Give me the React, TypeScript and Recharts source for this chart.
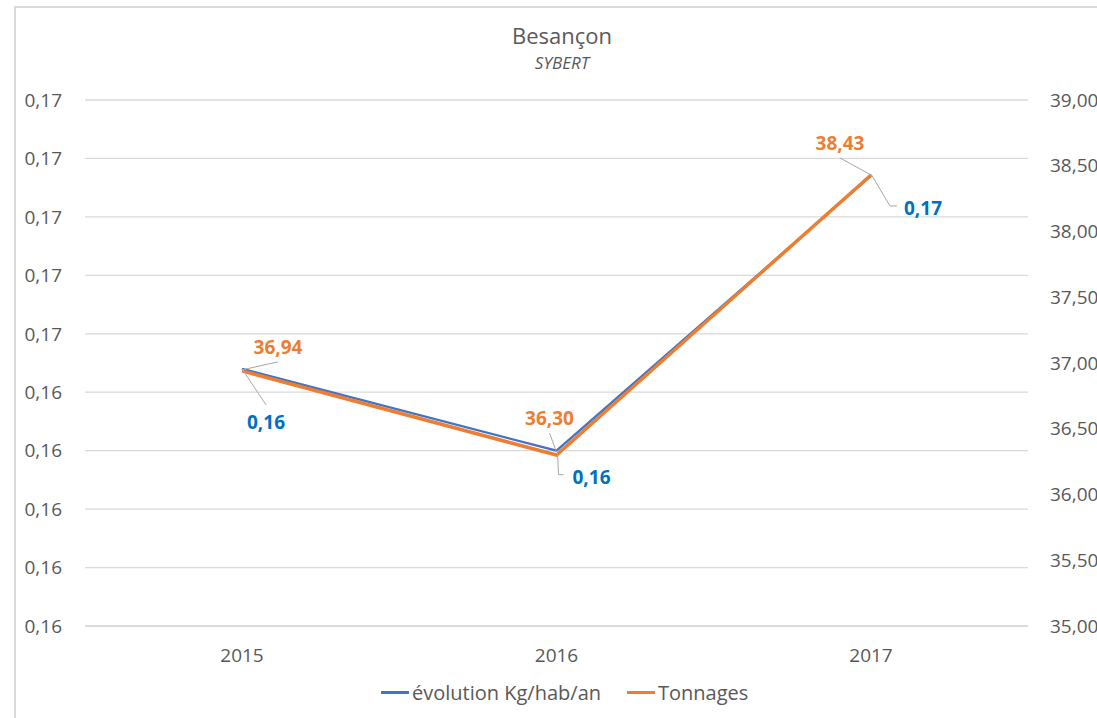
import { LineChart, Line, XAxis, YAxis, CartesianGrid, LabelList } from "recharts";

const years = ["2015", "2016", "2017"];
const kgHabAn = [0.1644, 0.163, 0.1677];
const tonnages = [36.94, 36.3, 38.43];
const leftTicks = [0.16, 0.161, 0.162, 0.163, 0.164, 0.165, 0.166, 0.167, 0.168, 0.169];
const rightTicks = [35, 35.5, 36, 36.5, 37, 37.5, 38, 38.5, 39];
const seriesNames = ["évolution Kg/hab/an", "Tonnages"];

const data = years.map((y, i) => ({ year: y, kg: kgHabAn[i], t: tonnages[i] }));

const BLUE = "#4472C4";
const ORANGE = "#ED7D31";
const TEXT = "#595959";
const FONT = "'Open Sans', sans-serif";

// label placement per point: text offset + leader line
const orangeLabelPos = [
  { dx: 36, dy: -24, leader: [[0, -1], [36, -9]] },
  { dx: -7, dy: -37, leader: [[0, -3], [-7, -22]] },
  { dx: -31, dy: -32, leader: [[0, 0], [-31, -17]] },
];
const blueLabelPos = [
  { dx: 24, dy: 53, leader: [[0, 0], [24, 36]] },
  { dx: 35, dy: 26, leader: [[1, 2], [2, 24], [7, 24]] },
  { dx: 52, dy: 32, leader: [[0, -2], [19, 30], [26, 30]] },
];

const fmt = (v: number) => (Math.round(v * 100 + 1e-9) / 100).toFixed(2).replace(".", ",");

function makeLabel(pos: typeof orangeLabelPos, color: string) {
  return (props: any) => {
    const { x, y, value, index } = props;
    const p = pos[index];
    if (!p || x == null || y == null) return null;
    const pts = p.leader.map(([a, b]) => `${x + a},${y + b}`).join(" ");
    return (
      <g>
        <polyline points={pts} fill="none" stroke="#a6a6a6" strokeWidth={1} />
        <text
          x={x + p.dx}
          y={y + p.dy}
          textAnchor="middle"
          dominantBaseline="central"
          fill={color}
          fontFamily={FONT}
          fontWeight={700}
          fontSize={19}
        >
          {fmt(value)}
        </text>
      </g>
    );
  };
}

export default function App() {
  const tick = { fill: TEXT, fontSize: 19, fontFamily: FONT };
  return (
    <div style={{ position: "absolute", left: 0, top: 0, width: 1097, height: 718, overflow: "hidden", background: "#fff" }}>
      <style>{`html, body { margin: 0; overflow: hidden; }`}</style>
      <div
        style={{
          position: "absolute",
          left: 14,
          top: 6,
          width: 1200,
          height: 800,
          borderLeft: "2px solid #d9d9d9",
          borderTop: "2px solid #d9d9d9",
        }}
      />
      <div style={{ position: "absolute", left: 0, width: 1124, top: 20, textAlign: "center", fontFamily: FONT, fontSize: 22, color: TEXT }}>
        Besançon
      </div>
      <div style={{ position: "absolute", left: 0, width: 1124, top: 51, textAlign: "center", fontFamily: FONT, fontSize: 17, fontStyle: "italic", color: TEXT }}>
        SYBERT
      </div>
      <div style={{ position: "absolute", left: 0, top: 0 }}>
        <LineChart width={1097} height={718} data={data} margin={{ top: 100, right: 0, left: 0, bottom: 52 }}>
          <CartesianGrid yAxisId="left" vertical={false} stroke="#d9d9d9" strokeWidth={1.3} />
          <XAxis
            dataKey="year"
            padding={{ left: 157, right: 157 }}
            tickLine={false}
            axisLine={{ stroke: "#d9d9d9", strokeWidth: 1.3 }}
            tick={tick}
            tickMargin={17}
            height={40}
          />
          <YAxis
            yAxisId="left"
            domain={[0.16, 0.169]}
            ticks={leftTicks}
            tickFormatter={fmt}
            tick={tick}
            tickLine={false}
            axisLine={false}
            tickMargin={17}
            width={85}
            allowDataOverflow
          />
          <YAxis
            yAxisId="right"
            orientation="right"
            domain={[35, 39]}
            ticks={rightTicks}
            tickFormatter={fmt}
            tick={{ ...tick, textAnchor: "start" }}
            tickLine={false}
            axisLine={false}
            tickMargin={16}
            width={69}
          />
          <Line
            yAxisId="left"
            dataKey="kg"
            name={seriesNames[0]}
            stroke={BLUE}
            strokeWidth={2.25}
            dot={false}
            isAnimationActive={false}
          >
            <LabelList dataKey="kg" content={makeLabel(blueLabelPos, "#0070C0")} />
          </Line>
          <Line
            yAxisId="right"
            dataKey="t"
            name={seriesNames[1]}
            stroke={ORANGE}
            strokeWidth={3.5}
            dot={false}
            isAnimationActive={false}
          >
            <LabelList dataKey="t" content={makeLabel(orangeLabelPos, ORANGE)} />
          </Line>
        </LineChart>
      </div>
      <div
        style={{
          position: "absolute",
          left: 381,
          top: 679,
          display: "flex",
          alignItems: "center",
          fontFamily: FONT,
          fontSize: 20,
          color: TEXT,
          whiteSpace: "nowrap",
        }}
      >
        {seriesNames.map((n, i) => (
          <div key={n} style={{ display: "flex", alignItems: "center", marginRight: i === 0 ? 26 : 0 }}>
            <span style={{ display: "inline-block", width: 28, height: 3, background: i === 0 ? BLUE : ORANGE, marginRight: 3 }} />
            <span>{n}</span>
          </div>
        ))}
      </div>
    </div>
  );
}
